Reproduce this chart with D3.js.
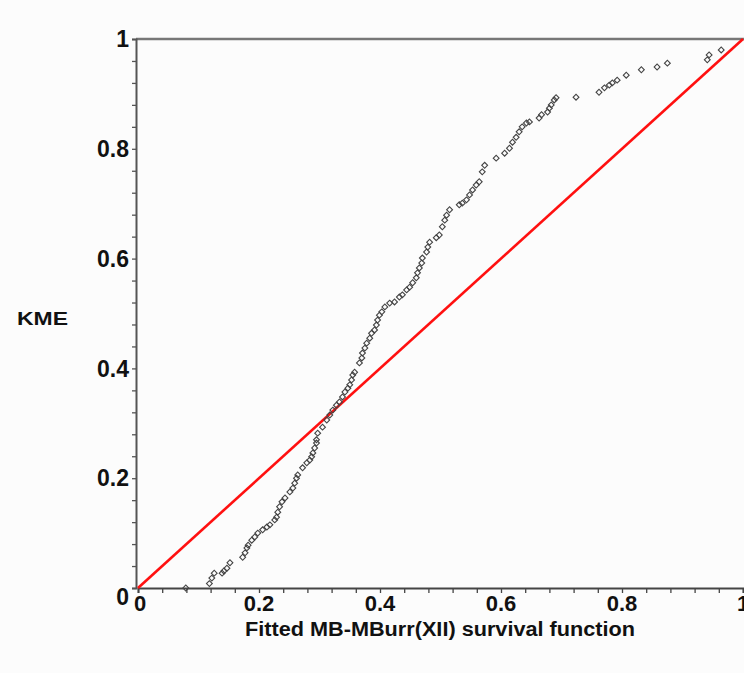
<!DOCTYPE html>
<html>
<head>
<meta charset="utf-8">
<script src="https://cdn.jsdelivr.net/npm/d3@7"></script>
<style>
  html, body { margin: 0; padding: 0; background: #fcfcfc; }
  svg { display: block; }
  text { font-family: "Liberation Sans", Arial, sans-serif; font-weight: bold; fill: #111; }
</style>
</head>
<body>
<svg id="chart" width="744" height="673"></svg>
<script>
// Fitted survival function values (x) and Kaplan-Meier estimates (y)
const fittedSurvival = [0.079,0.118,0.122,0.126,0.139,0.142,0.147,0.152,0.173,0.177,0.180,0.182,0.188,0.193,0.198,0.206,0.213,0.218,0.226,0.229,0.231,0.234,0.238,0.243,0.251,0.256,0.259,0.262,0.264,0.272,0.279,0.284,0.287,0.289,0.292,0.295,0.295,0.297,0.305,0.312,0.317,0.322,0.328,0.333,0.338,0.342,0.347,0.350,0.353,0.355,0.358,0.366,0.370,0.371,0.375,0.378,0.383,0.386,0.391,0.394,0.396,0.399,0.403,0.408,0.416,0.424,0.432,0.437,0.444,0.449,0.454,0.460,0.462,0.465,0.469,0.470,0.477,0.479,0.482,0.493,0.498,0.503,0.507,0.510,0.515,0.531,0.536,0.543,0.548,0.553,0.559,0.564,0.569,0.573,0.592,0.606,0.614,0.619,0.625,0.630,0.635,0.642,0.647,0.663,0.667,0.677,0.680,0.683,0.688,0.691,0.724,0.762,0.771,0.779,0.784,0.792,0.807,0.832,0.858,0.875,0.941,0.944,0.964];
const kme = [0.000,0.008,0.018,0.027,0.027,0.031,0.036,0.046,0.056,0.064,0.073,0.078,0.087,0.093,0.100,0.106,0.111,0.115,0.124,0.129,0.138,0.148,0.157,0.164,0.175,0.182,0.191,0.200,0.206,0.219,0.228,0.233,0.239,0.246,0.255,0.264,0.270,0.282,0.293,0.306,0.315,0.324,0.333,0.339,0.348,0.357,0.364,0.370,0.379,0.388,0.393,0.410,0.419,0.428,0.437,0.446,0.455,0.464,0.470,0.479,0.488,0.497,0.503,0.512,0.519,0.521,0.530,0.534,0.543,0.548,0.556,0.565,0.574,0.583,0.592,0.601,0.612,0.621,0.630,0.638,0.643,0.658,0.670,0.679,0.689,0.698,0.701,0.707,0.716,0.725,0.734,0.740,0.758,0.770,0.783,0.792,0.801,0.812,0.821,0.831,0.840,0.847,0.849,0.856,0.862,0.867,0.874,0.880,0.889,0.893,0.894,0.903,0.911,0.916,0.920,0.925,0.934,0.944,0.949,0.956,0.962,0.971,0.980];
const majorTicks = [0, 0.2, 0.4, 0.6, 0.8, 1];
const tickLabels = ["0", "0.2", "0.4", "0.6", "0.8", "1"];
const referenceLine = [0, 1];
const xTitle = "Fitted MB-MBurr(XII) survival function";
const yTitle = "KME";

const svg = d3.select("#chart");
const x = d3.scaleLinear().domain([0, 1]).range([138, 743]);
const y = d3.scaleLinear().domain([0, 1]).range([588, 39]);
const minorTicks = d3.range(0, 1.0001, 0.04);

// top frame line
svg.append("line")
  .attr("x1", x(0) - 2).attr("x2", 744)
  .attr("y1", y(1)).attr("y2", y(1))
  .attr("stroke", "#777").attr("stroke-width", 2.5);

// x axis
const xAxis = d3.axisBottom(x).tickValues(minorTicks).tickSize(5).tickFormat("");
const gx = svg.append("g").attr("transform", `translate(0,${y(0)})`).call(xAxis);
gx.select(".domain").attr("stroke", "#444").attr("stroke-width", 2);
gx.selectAll(".tick line").attr("stroke", "#444").attr("stroke-width", 1.3);

// y axis
const yAxis = d3.axisLeft(y).tickValues(minorTicks).tickSize(4).tickFormat("");
const gy = svg.append("g").attr("transform", `translate(${x(0) - 2},0)`).call(yAxis);
gy.select(".domain").attr("stroke", "#555").attr("stroke-width", 2);
gy.selectAll(".tick line").attr("stroke", "#555").attr("stroke-width", 1.3);

// tick labels
svg.append("g").selectAll("text").data(majorTicks).join("text")
  .attr("x", d => x(d) + (d === 0 ? 2 : 0))
  .attr("y", y(0) + 23)
  .attr("text-anchor", "middle")
  .attr("font-size", 22)
  .text((d, i) => tickLabels[i]);

svg.append("g").selectAll("text").data(majorTicks).join("text")
  .attr("x", x(0) - 9)
  .attr("y", d => y(d) + (d === 0 ? 9 : 0))
  .attr("dy", "0.36em")
  .attr("text-anchor", "end")
  .attr("font-size", 23)
  .text((d, i) => tickLabels[i]);

// axis titles
svg.append("text")
  .attr("x", 440).attr("y", 636)
  .attr("text-anchor", "middle")
  .attr("font-size", 20)
  .attr("textLength", 390).attr("lengthAdjust", "spacingAndGlyphs")
  .text(xTitle);

svg.append("text")
  .attr("x", 17).attr("y", 325)
  .attr("font-size", 19)
  .attr("textLength", 51).attr("lengthAdjust", "spacingAndGlyphs")
  .text(yTitle);

// reference line y = x
svg.append("line")
  .attr("x1", x(referenceLine[0])).attr("y1", y(referenceLine[0]))
  .attr("x2", x(referenceLine[1])).attr("y2", y(referenceLine[1]))
  .attr("stroke", "#ff1010").attr("stroke-width", 2.6);

// points
const sym = d3.symbol().type(d3.symbolSquare).size(17);
svg.append("g").selectAll("path").data(fittedSurvival).join("path")
  .attr("d", sym)
  .attr("transform", (d, i) => `translate(${x(d)},${y(kme[i])}) rotate(45)`)
  .attr("fill", "none")
  .attr("stroke", "#444")
  .attr("stroke-width", 1.1);
</script>
</body>
</html>
